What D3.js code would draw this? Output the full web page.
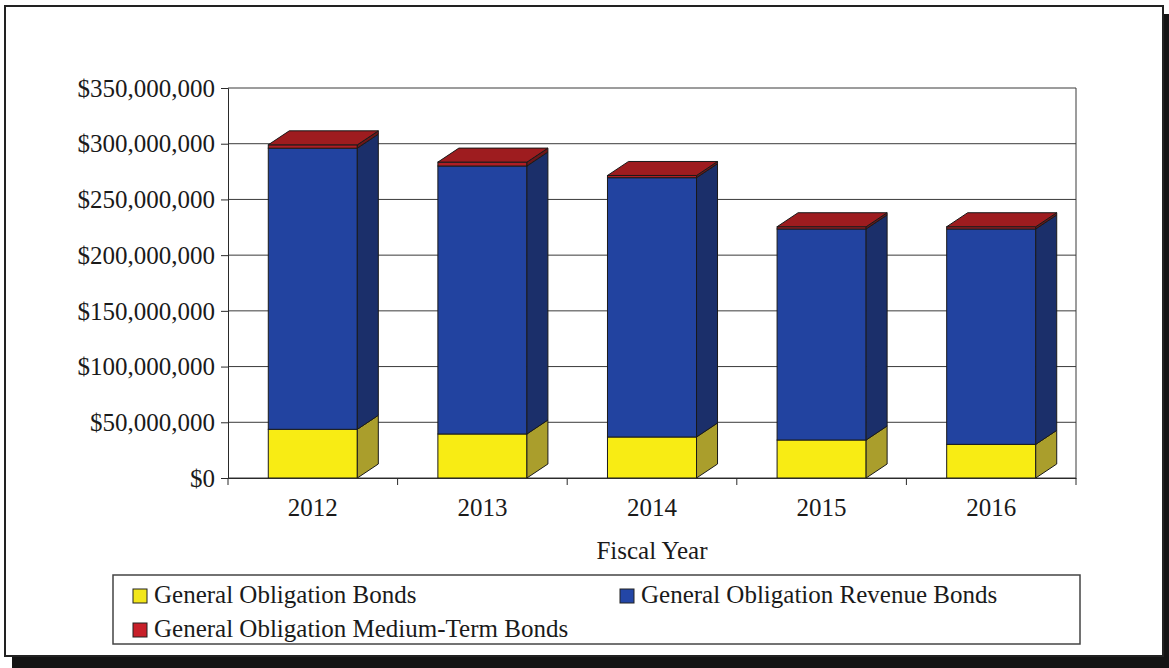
<!DOCTYPE html>
<html>
<head>
<meta charset="utf-8">
<script src="https://cdn.jsdelivr.net/npm/d3@7"></script>
<style>
  html, body { margin: 0; padding: 0; background: #ffffff; }
  svg { display: block; }
  text { font-family: "Liberation Serif", "Times New Roman", serif; fill: #1a1a1a; }
</style>
</head>
<body>
<svg id="chart" width="1169" height="668"></svg>
<script>
// Outstanding debt by fiscal year, stacked by bond type
const years = ["2012", "2013", "2014", "2015", "2016"];
const goBonds = [43.7e6, 39.5e6, 36.8e6, 34.1e6, 30.2e6];
const goRevenueBonds = [252.3e6, 240.5e6, 232.7e6, 189.4e6, 193.3e6];
const goMediumTermBonds = [3.0e6, 3.5e6, 2.0e6, 2.0e6, 2.0e6];
const seriesNames = ["General Obligation Bonds", "General Obligation Revenue Bonds", "General Obligation Medium-Term Bonds"];
const yTicks = [0, 50e6, 100e6, 150e6, 200e6, 250e6, 300e6, 350e6];
const axisTitle = "Fiscal Year";

// face colours per series: front, side, top
const palette = [
  { front: "#f8ec14", side: "#aa9e2c", top: "#e6dc20", key: "#f2e61a" },
  { front: "#2243a0", side: "#1b2f6a", top: "#2a4cae", key: "#2346a6" },
  { front: "#b01e24", side: "#6e1618", top: "#9e1c1f", key: "#c8202a" }
];

const svg = d3.select("#chart");

// page frame with drop shadow
svg.append("rect").attr("x", 12).attr("y", 14).attr("width", 1157).attr("height", 654).attr("fill", "#141414");
svg.append("rect").attr("x", 5).attr("y", 6).attr("width", 1158).attr("height", 650)
  .attr("fill", "#ffffff").attr("stroke", "#222").attr("stroke-width", 2);

const plot = { left: 228, right: 1076, top: 88, bottom: 478 };
const depth = { dx: 21, dy: 14 };

const x = d3.scaleBand().domain(years).range([plot.left, plot.right]);
const y = d3.scaleLinear().domain([0, 350e6]).range([plot.bottom, plot.top]);

// gridlines
svg.append("g").selectAll("line").data(yTicks).join("line")
  .attr("x1", plot.left).attr("x2", plot.right)
  .attr("y1", d => y(d)).attr("y2", d => y(d))
  .attr("stroke", "#3a3a3a").attr("stroke-width", 1);
svg.append("line").attr("x1", plot.right).attr("x2", plot.right)
  .attr("y1", plot.top).attr("y2", plot.bottom).attr("stroke", "#3a3a3a");

// stacked data
const rows = years.map((yr, i) => ({ year: yr, s0: goBonds[i], s1: goRevenueBonds[i], s2: goMediumTermBonds[i] }));
const stack = d3.stack().keys(["s0", "s1", "s2"])(rows);

const barFrac = 0.525;
const barW = x.bandwidth() * barFrac;
const barsG = svg.append("g");

years.forEach((yr, i) => {
  const x0 = x(yr) + (x.bandwidth() - barW) / 2;
  const x1 = x0 + barW;
  const g = barsG.append("g");
  stack.forEach((layer, k) => {
    const [v0, v1] = layer[i];
    const yb = y(v0), yt = y(v1);
    const c = palette[k];
    g.append("rect").attr("x", x0).attr("y", yt).attr("width", barW).attr("height", yb - yt)
      .attr("fill", c.front).attr("stroke", "#1a1a1a").attr("stroke-width", 1);
    g.append("path")
      .attr("d", `M${x1},${yb}L${x1 + depth.dx},${yb - depth.dy}L${x1 + depth.dx},${yt - depth.dy}L${x1},${yt}Z`)
      .attr("fill", c.side).attr("stroke", "#1a1a1a").attr("stroke-width", 1);
    if (k === stack.length - 1) {
      g.append("path")
        .attr("d", `M${x0},${yt}L${x0 + depth.dx},${yt - depth.dy}L${x1 + depth.dx},${yt - depth.dy}L${x1},${yt}Z`)
        .attr("fill", c.top).attr("stroke", "#1a1a1a").attr("stroke-width", 1);
    }
  });
});

// value axis
const yAxis = d3.axisLeft(y).tickValues(yTicks).tickSize(7).tickPadding(6)
  .tickFormat(d => "$" + d3.format(",")(d));
const yg = svg.append("g").attr("transform", `translate(${plot.left},0)`).call(yAxis);
yg.select(".domain").attr("stroke", "#2a2a2a");
yg.selectAll(".tick line").attr("stroke", "#2a2a2a");
yg.selectAll("text").attr("font-size", 25).attr("font-family", "Liberation Serif").attr("fill", "#1a1a1a").attr("dy", "0.33em");

// category axis
const xAxis = d3.axisBottom(x).tickSize(0).tickPadding(20);
const xg = svg.append("g").attr("transform", `translate(0,${plot.bottom})`).call(xAxis);
xg.select(".domain").attr("stroke", "#2a2a2a");
xg.selectAll("text").attr("font-size", 25).attr("font-family", "Liberation Serif").attr("fill", "#1a1a1a");
const bounds = years.map(yr => x(yr)).concat([plot.right]);
svg.append("g").selectAll("line").data(bounds).join("line")
  .attr("x1", d => d).attr("x2", d => d)
  .attr("y1", plot.bottom).attr("y2", plot.bottom + 7)
  .attr("stroke", "#2a2a2a");

svg.append("text").attr("x", (plot.left + plot.right) / 2).attr("y", 559)
  .attr("text-anchor", "middle").attr("font-size", 25).text(axisTitle);

// legend
const lg = svg.append("g");
lg.append("rect").attr("x", 113).attr("y", 575).attr("width", 967).attr("height", 69)
  .attr("fill", "#ffffff").attr("stroke", "#444").attr("stroke-width", 1.5);
const legendPos = [ { x: 133, y: 603 }, { x: 620, y: 603 }, { x: 133, y: 637 } ];
seriesNames.forEach((name, k) => {
  const p = legendPos[k];
  lg.append("rect").attr("x", p.x).attr("y", p.y - 14).attr("width", 14).attr("height", 14)
    .attr("fill", palette[k].key).attr("stroke", "#222").attr("stroke-width", 1);
  lg.append("text").attr("x", p.x + 21).attr("y", p.y).attr("font-size", 25).text(name);
});
</script>
</body>
</html>
